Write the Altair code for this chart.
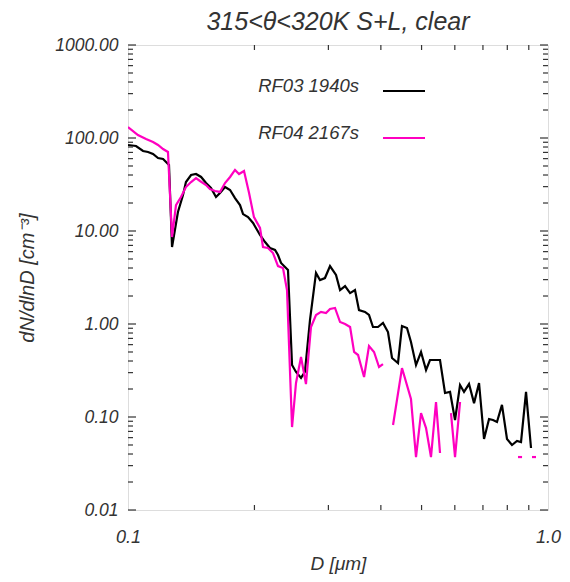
import altair as alt
import pandas as pd

# ---------------- data ----------------
series_names = ["RF03 1940s", "RF04 2167s"]
series_colors = ["#000000", "#ff00c0"]

rf03_d = [0.100, 0.1045, 0.1086, 0.1116, 0.1147, 0.1179, 0.1212, 0.1232, 0.1252, 0.1273,
          0.1315, 0.1352, 0.1374, 0.1413, 0.1452, 0.1493, 0.1534, 0.1576, 0.1620, 0.1656,
          0.1702, 0.1750, 0.1798, 0.1848, 0.1879, 0.1931, 0.1985, 0.2062, 0.2120, 0.2178,
          0.2239, 0.2276, 0.2314, 0.2404, 0.2458, 0.2512, 0.2582, 0.2638, 0.2712, 0.2803,
          0.2865, 0.2944, 0.3027, 0.3128, 0.3198, 0.3287, 0.3379, 0.3471, 0.3548, 0.3667,
          0.3748, 0.3831, 0.3937, 0.4047, 0.4159, 0.4252, 0.4394, 0.4491, 0.4616, 0.4718,
          0.4850, 0.4985, 0.5124, 0.5236, 0.5383, 0.5532, 0.5686, 0.5845, 0.6007, 0.6174,
          0.6310, 0.6486, 0.6667, 0.6852, 0.7042, 0.7238, 0.7396, 0.7560, 0.7770, 0.7987,
          0.8209, 0.8437, 0.8625, 0.8865, 0.9111]
rf03_n = [84.1, 82.0, 72.5, 70.7, 67.3, 60.9, 59.4, 55.2, 51.3, 6.73,
          16.0, 24.4, 33.6, 40.0, 41.0, 38.1, 32.8, 29.0, 23.2, 25.6,
          29.7, 27.6, 22.6, 19.0, 15.2, 14.1, 12.2, 9.06, 7.61, 6.57,
          6.25, 5.52, 4.53, 3.81, 0.362, 0.305, 0.263, 0.305, 1.10, 3.54,
          2.97, 3.12, 4.20, 3.37, 2.32, 2.56, 2.15, 2.32, 1.41, 1.35,
          1.25, 0.928, 0.928, 1.025, 0.820, 0.431, 0.381, 0.952, 0.906, 0.640,
          0.362, 0.500, 0.320, 0.410, 0.410, 0.410, 0.181, 0.186, 0.0928, 0.221,
          0.186, 0.226, 0.141, 0.232, 0.058, 0.0952, 0.0928, 0.0884, 0.135, 0.058,
          0.050, 0.0552, 0.0538, 0.186, 0.0464]

# None = empty bin (not drawn on the log axis -> gap in the line)
rf04_d = [0.100, 0.1056, 0.1104, 0.1147, 0.1179, 0.1212, 0.1245, 0.1273, 0.1301, 0.1337,
          0.1374, 0.1413, 0.1452, 0.1484, 0.1534, 0.1567, 0.1611, 0.1656, 0.1702, 0.1750,
          0.1798, 0.1838, 0.1889, 0.1942, 0.1995, 0.2062, 0.2096, 0.2154, 0.2214, 0.2276,
          0.2339, 0.2391, 0.2458, 0.2512, 0.2582, 0.2653, 0.2727, 0.2803, 0.2881, 0.2961,
          0.3027, 0.3111, 0.3198, 0.3287, 0.3379, 0.3454, 0.3530, 0.3648, 0.3748, 0.3853,
          0.3960, 0.4047, 0.4159, 0.4276, 0.4491, 0.4718, 0.4850, 0.4985, 0.5124, 0.5265,
          0.5412, 0.5532, 0.5686, 0.5875, 0.6007, 0.6174, 0.7000, 0.8483, 0.8674, 0.8865,
          0.9161, 0.9364]
rf04_n = [131.3, 107.7, 97.5, 90.6, 84.1, 76.1, 70.7, 8.62, 19.0, 23.2,
          29.7, 33.6, 37.1, 34.5, 31.2, 28.3, 26.9, 26.3, 32.8, 38.1,
          45.3, 41.0, 44.2, 25.6, 14.1, 10.8, 6.73, 6.57, 5.80, 4.20,
          4.00, 2.32, 0.078, 0.232, 0.442, 0.226, 0.928, 1.25, 1.35, 1.31,
          1.45, 1.486, 1.05, 1.00, 0.928, 0.500, 0.464, 0.269, 0.580, 0.500,
          0.345, 0.371, None, 0.082, 0.336, 0.156, 0.0371, 0.110, 0.0761, 0.0371,
          0.145, 0.041, None, 0.110, 0.0371, 0.145, None, 0.0371, 0.0371, None,
          0.0371, 0.0371]

x_major = [0.1, 1.0]
x_minor = [0.2, 0.3, 0.4, 0.5, 0.6, 0.7, 0.8, 0.9]
y_major = [0.01, 0.1, 1.0, 10.0, 100.0, 1000.0]
y_minor = [m * 10.0 ** p for p in range(-2, 3) for m in range(2, 10)]

# ---------------- layout / style ----------------
W, H = 420, 465
FONT = "Liberation Sans"
TXT = "#333333"
AX = "#333333"


def frame(ds, ns, name):
    rows, seg = [], 0
    for d, n in zip(ds, ns):
        if n is None:
            seg += 1
            continue
        rows.append({"D": d, "N": n, "series": name, "seg": seg})
    return pd.DataFrame(rows)


df03 = frame(rf03_d, rf03_n, series_names[0])
df04 = frame(rf04_d, rf04_n, series_names[1])

xs = alt.Scale(type="log", domain=[0.1, 1.0], nice=False)
ys = alt.Scale(type="log", domain=[0.01, 1000], nice=False)

x_axis = alt.Axis(values=x_major, format=".1f", ticks=False, domain=False, grid=False,
                  labelFlush=False, labelFont=FONT, labelFontSize=18, labelFontStyle="italic",
                  labelColor=TXT, labelPadding=18,
                  title="D [μm]", titleFont=FONT, titleFontSize=19, titleFontStyle="italic",
                  titleFontWeight="normal", titleColor=TXT, titlePadding=8)
y_axis = alt.Axis(values=y_major, format=".2f", ticks=False, domain=False, grid=False,
                  labelFlush=False, labelFont=FONT, labelFontSize=17.5, labelFontStyle="italic",
                  labelColor=TXT, labelPadding=10,
                  title="dN/dlnD [cm⁻³]", titleFont=FONT, titleFontSize=20,
                  titleFontStyle="italic", titleFontWeight="normal", titleColor=TXT,
                  titleX=-101, titleY=H / 2, titleBaseline="middle", titleAngle=-90)


def X(field):
    return alt.X(field, scale=xs, axis=x_axis)


def Y(field):
    return alt.Y(field, scale=ys, axis=y_axis)


line03 = alt.Chart(df03).mark_line(color=series_colors[0], strokeWidth=2.2, clip=True).encode(
    x=X("D:Q"), y=Y("N:Q"), detail="seg:N")
line04 = alt.Chart(df04).mark_line(color=series_colors[1], strokeWidth=2.2, clip=True).encode(
    x=X("D:Q"), y=Y("N:Q"), detail="seg:N")


def yticks(vals, length):
    d = pd.DataFrame({"D": [0.1] * len(vals), "N": vals})
    left = alt.Chart(d).mark_rule(color=AX, strokeWidth=1.2).encode(
        y=Y("N:Q"), x=alt.value(0), x2=alt.value(length))
    right = alt.Chart(d).mark_rule(color=AX, strokeWidth=1.2).encode(
        y=Y("N:Q"), x=alt.value(W), x2=alt.value(W - length))
    return [left, right]


def xticks(vals, length):
    d = pd.DataFrame({"D": vals, "N": [1.0] * len(vals)})
    bottom = alt.Chart(d).mark_rule(color=AX, strokeWidth=1.2).encode(
        x=X("D:Q"), y=alt.value(H), y2=alt.value(H - length))
    top = alt.Chart(d).mark_rule(color=AX, strokeWidth=1.2).encode(
        x=X("D:Q"), y=alt.value(0), y2=alt.value(length))
    return [bottom, top]


one = pd.DataFrame({"a": [0]})
legend_layers = []
for i, (name, col) in enumerate(zip(series_names, series_colors)):
    ty = 41 + 47 * i
    legend_layers.append(
        alt.Chart(one).mark_text(text=name, align="right", baseline="middle", font=FONT,
                                 fontSize=18.5, fontStyle="italic", color=TXT).encode(
            x=alt.value(231), y=alt.value(ty)))
    legend_layers.append(
        alt.Chart(one).mark_rule(color=col, strokeWidth=2.2).encode(
            x=alt.value(255), x2=alt.value(297), y=alt.value(ty + 5)))

layers = ([line03, line04] + yticks(y_major, 8) + yticks(y_minor, 5)
          + xticks(x_minor, 5) + legend_layers)

chart = alt.layer(*layers).properties(
    width=W, height=H,
    autosize=alt.AutoSizeParams(type="none"),
    padding={"left": 120, "top": 37, "right": 14, "bottom": 64},
    title=alt.TitleParams("315<θ<320K S+L, clear", font=FONT, fontSize=25,
                          fontStyle="italic", fontWeight="normal", color=TXT,
                          anchor="middle", frame="group", offset=1),
).configure_view(stroke=AX, strokeWidth=1.5).configure(background="white")

chart.save("out.html", embed_options={"renderer": "svg", "actions": False})
